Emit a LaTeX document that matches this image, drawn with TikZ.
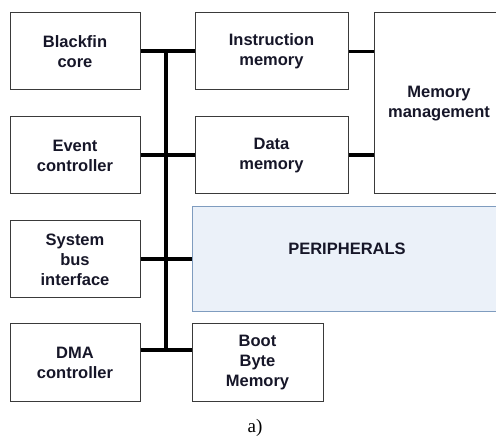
\documentclass[tikz,border=0pt]{standalone}
\usepackage{fontspec}
\newfontfamily\blockfont{Liberation Sans}
\newfontfamily\capfont{Liberation Serif}

\definecolor{boxline}{HTML}{3A3A3A}
\definecolor{perfill}{HTML}{EBF1F9}
\definecolor{perline}{HTML}{7F9CBF}
\definecolor{textcol}{HTML}{161628}

\begin{document}
\begin{tikzpicture} [x=1pt, y=-1pt]
\tikzstyle{every node}=[draw=boxline, line width=1pt, shape=rectangle, align=center,
  text=textcol, font=\blockfont\bfseries\fontsize{16.5}{20}\selectfont];
\tikzstyle{bus}=[line width=4pt, black];
\useasboundingbox (0,0) rectangle (496,438);
\node [minimum width=130, minimum height=77] (core) at (75,51.5) {Blackfin\\core};
\node [minimum width=130, minimum height=77] (event) at (75,155.5) {Event\\controller};
\node [minimum width=130, minimum height=77] (sysbus) at (75,259.5) {System\\bus\\interface};
\node [minimum width=130, minimum height=78] (dma) at (75,363) {DMA\\controller};
\node [minimum width=153, minimum height=77] (imem) at (271.5,51.5) {Instruction\\memory};
\node [minimum width=153, minimum height=77] (dmem) at (271.5,155.5) {Data\\memory};
\node [minimum width=130, minimum height=181] (mmu) at (439,103.5) {Memory\\management};
\node [draw=perline, fill=perfill, minimum width=310, minimum height=105] (periph) at (347,259.5) {};
\node [draw=none] (periphtxt) at (347,249) {PERIPHERALS};
\node [minimum width=131, minimum height=78] (boot) at (257.5,363) {Boot\\Byte\\Memory};
\node [draw=none, font=\capfont\fontsize{19}{22}\selectfont, text=black] (caption) at (255,428) {a)};
\coordinate (bustop) at (166,51);
\coordinate (busbot) at (166,350);
\draw [bus] (bustop) -- (busbot) % system bus
  (core.east) -- (imem.west)
  (event.east |- 0,155) -- (dmem.west |- 0,155)
  (sysbus.east) -- (periph.west)
  (dma.east |- busbot) -- (boot.west |- busbot);
\draw [bus, line width=3.5pt] (imem.east) -- (imem.east -| mmu.west)
  (dmem.east |- 0,155) -- (mmu.west |- 0,155);
\end{tikzpicture}
\end{document}
